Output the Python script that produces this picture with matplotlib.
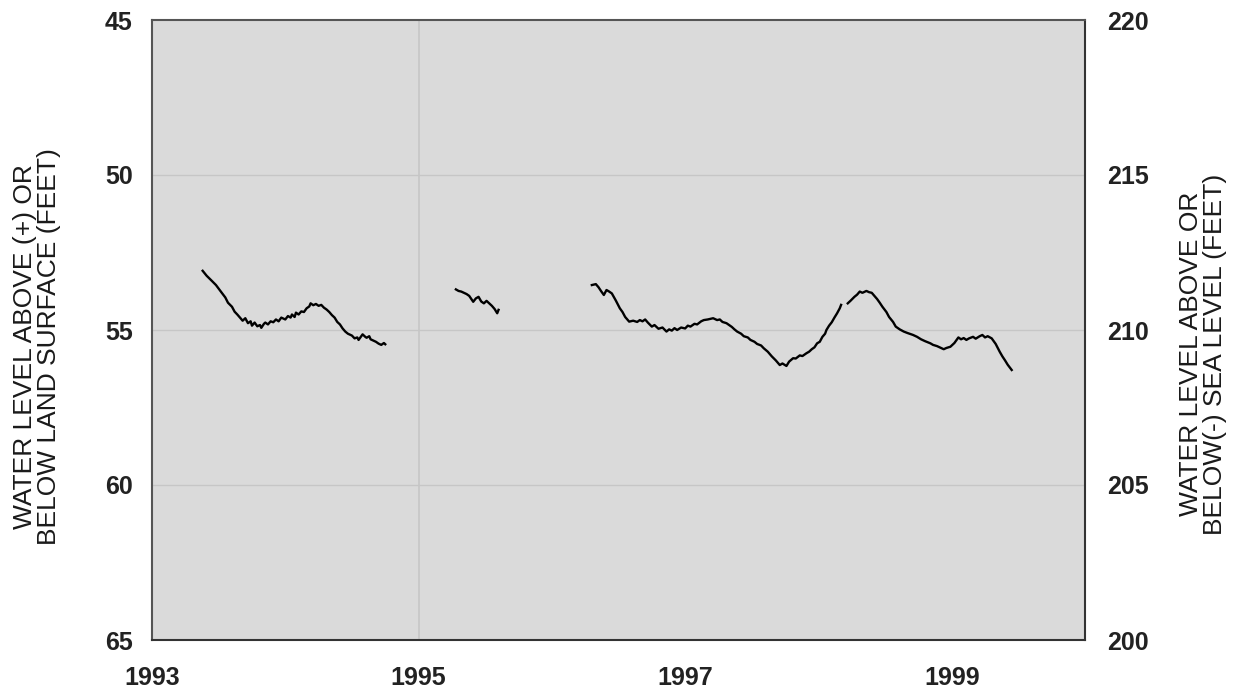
import numpy as np
import matplotlib
matplotlib.use("Agg")
import matplotlib.pyplot as plt

plt.rcParams['font.family'] = ['Liberation Sans', 'DejaVu Sans']

# Segment 1 (1993-1994)
seg1_year = [1993.38, 1993.41, 1993.45, 1993.48, 1993.52, 1993.55, 1993.57, 1993.60, 1993.62, 1993.64,
             1993.66, 1993.68, 1993.70, 1993.72, 1993.74, 1993.75, 1993.77, 1993.79, 1993.81, 1993.82,
             1993.84, 1993.85, 1993.87, 1993.89, 1993.91, 1993.93, 1993.95, 1993.97, 1994.00, 1994.02,
             1994.04, 1994.05, 1994.07, 1994.08, 1994.10, 1994.12, 1994.14, 1994.16, 1994.18, 1994.19,
             1994.21, 1994.23, 1994.25, 1994.27, 1994.29, 1994.31, 1994.33, 1994.35, 1994.37, 1994.39,
             1994.41, 1994.43, 1994.45, 1994.47, 1994.50, 1994.52, 1994.54, 1994.55, 1994.57, 1994.58,
             1994.60, 1994.61, 1994.63, 1994.64, 1994.66, 1994.68, 1994.70, 1994.72, 1994.74, 1994.75]
seg1_depth = [53.09, 53.25, 53.42, 53.55, 53.78, 53.95, 54.12, 54.25, 54.41, 54.50,
              54.60, 54.70, 54.62, 54.78, 54.72, 54.86, 54.76, 54.88, 54.84, 54.93,
              54.80, 54.76, 54.82, 54.72, 54.75, 54.66, 54.72, 54.60, 54.66, 54.55,
              54.60, 54.50, 54.58, 54.44, 54.50, 54.40, 54.42, 54.30, 54.24, 54.14,
              54.20, 54.16, 54.22, 54.19, 54.28, 54.34, 54.42, 54.52, 54.60, 54.74,
              54.82, 54.95, 55.05, 55.12, 55.18, 55.27, 55.24, 55.32, 55.20, 55.14,
              55.22, 55.25, 55.20, 55.30, 55.34, 55.38, 55.44, 55.48, 55.42, 55.46]

# Segment 2 (1995)
seg2_year = [1995.28, 1995.30, 1995.32, 1995.34, 1995.36, 1995.38, 1995.41, 1995.43, 1995.45, 1995.47,
             1995.49, 1995.51, 1995.53, 1995.55, 1995.57, 1995.59, 1995.60]
seg2_depth = [53.69, 53.74, 53.76, 53.80, 53.84, 53.90, 54.09, 53.98, 53.93, 54.08,
              54.14, 54.06, 54.14, 54.22, 54.32, 54.46, 54.35]

# Segment 3 (1996-1999), NaN marks the short data gap
seg3_year = [1996.30, 1996.33, 1996.35, 1996.37, 1996.39, 1996.41, 1996.43, 1996.45, 1996.48, 1996.51,
             1996.53, 1996.55, 1996.58, 1996.61, 1996.64, 1996.66, 1996.68, 1996.70, 1996.72, 1996.75,
             1996.77, 1996.80, 1996.83, 1996.86, 1996.88, 1996.90, 1996.92, 1996.94, 1996.97, 1997.00,
             1997.02, 1997.04, 1997.07, 1997.09, 1997.12, 1997.14, 1997.17, 1997.21, 1997.24, 1997.26,
             1997.28, 1997.31, 1997.33, 1997.35, 1997.37, 1997.39, 1997.42, 1997.44, 1997.47, 1997.49,
             1997.52, 1997.54, 1997.57, 1997.59, 1997.62, 1997.65, 1997.68, 1997.71, 1997.73, 1997.76,
             1997.78, 1997.81, 1997.83, 1997.86, 1997.88, 1997.91, 1997.93, 1997.95, 1997.97, 1997.99,
             1998.01, 1998.03, 1998.05, 1998.06, 1998.08, 1998.10, 1998.12, 1998.14, 1998.16, 1998.17,
             1998.195,
             1998.22, 1998.24, 1998.27, 1998.29, 1998.31, 1998.33, 1998.36, 1998.38, 1998.40, 1998.42,
             1998.44, 1998.46, 1998.48, 1998.51, 1998.53, 1998.56, 1998.58, 1998.61, 1998.64, 1998.67,
             1998.71, 1998.74, 1998.77, 1998.80, 1998.84, 1998.86, 1998.89, 1998.91, 1998.94, 1998.96,
             1998.99, 1999.02, 1999.05, 1999.07, 1999.09, 1999.11, 1999.13, 1999.16, 1999.18, 1999.21,
             1999.23, 1999.25, 1999.27, 1999.30, 1999.33, 1999.36, 1999.38, 1999.40, 1999.42, 1999.45]
seg3_depth = [53.55, 53.52, 53.62, 53.75, 53.87, 53.71, 53.76, 53.82, 54.05, 54.30,
              54.42, 54.58, 54.73, 54.70, 54.74, 54.68, 54.72, 54.66, 54.76, 54.89,
              54.84, 54.96, 54.92, 55.05, 54.98, 55.02, 54.94, 55.00, 54.92, 54.95,
              54.86, 54.89, 54.80, 54.82, 54.72, 54.68, 54.66, 54.62, 54.68, 54.66,
              54.74, 54.78, 54.84, 54.90, 54.98, 55.05, 55.12, 55.20, 55.24, 55.32,
              55.38, 55.45, 55.50, 55.59, 55.70, 55.85, 55.98, 56.13, 56.08, 56.16,
              56.02, 55.91, 55.92, 55.82, 55.84, 55.75, 55.70, 55.62, 55.56, 55.43,
              55.38, 55.22, 55.12, 55.00, 54.86, 54.75, 54.60, 54.46, 54.30, 54.19,
              np.nan,
              54.14, 54.06, 53.93, 53.86, 53.76, 53.80, 53.74, 53.78, 53.80, 53.90,
              54.00, 54.12, 54.25, 54.42, 54.58, 54.74, 54.89, 54.98, 55.05, 55.10,
              55.16, 55.22, 55.30, 55.36, 55.43, 55.48, 55.52, 55.56, 55.62, 55.58,
              55.54, 55.42, 55.24, 55.30, 55.26, 55.32, 55.27, 55.22, 55.28, 55.20,
              55.16, 55.24, 55.20, 55.27, 55.45, 55.70, 55.85, 55.98, 56.12, 56.29]

x_ticks = [1993, 1995, 1997, 1999]
left_ticks = [45, 50, 55, 60, 65]
right_ticks = [220, 215, 210, 205, 200]

fig = plt.figure(figsize=(12.49, 6.94), dpi=100)
ax = fig.add_axes([152/1249, 1 - 640/694, (1085-152)/1249, (640-20)/694])
ax.set_facecolor('#dadada')

for yy in [50, 55, 60]:
    ax.axhline(yy, color='#c6c6c6', lw=1.0, zorder=1)
ax.axvline(1995, color='#c6c6c6', lw=1.2, zorder=1)

for xs, ys in [(seg1_year, seg1_depth), (seg2_year, seg2_depth), (seg3_year, seg3_depth)]:
    ax.plot(xs, ys, color='black', lw=1.7, zorder=3)

tick_font = dict(fontsize=18, fontweight='bold', color='#222222')
ax.set_xlim(1993, 2000)
ax.set_ylim(65, 45)
ax.set_xticks(x_ticks)
ax.set_xticklabels([str(t) for t in x_ticks], **tick_font)
ax.set_yticks(left_ticks)
ax.set_yticklabels([str(t) for t in left_ticks], **tick_font)
ax.tick_params(axis='x', length=0, pad=19)
ax.tick_params(axis='y', length=0, pad=14)
for s in ['left', 'top']:
    ax.spines[s].set_color('#555555')
    ax.spines[s].set_linewidth(1.5)
for s in ['bottom', 'right']:
    ax.spines[s].set_color('#333333')
    ax.spines[s].set_linewidth(1.5)

ax2 = ax.twinx()
ax2.set_ylim(200, 220)
ax2.set_yticks(right_ticks)
ax2.set_yticklabels([str(t) for t in right_ticks], **tick_font)
ax2.tick_params(axis='y', length=0, pad=16)
for s in ax2.spines.values():
    s.set_visible(False)

label_font = dict(fontsize=19, color='#1a1a1a', rotation=90, ha='center', va='center',
                  linespacing=1.05, multialignment='center')
fig.text(37/1249, 1 - 347/694, 'WATER LEVEL ABOVE (+) OR\nBELOW LAND SURFACE (FEET)', **label_font)
fig.text(1203/1249, 1 - 354/694, 'WATER LEVEL ABOVE OR\nBELOW(-) SEA LEVEL (FEET)', **label_font)

fig.savefig('out.png', dpi=100)
